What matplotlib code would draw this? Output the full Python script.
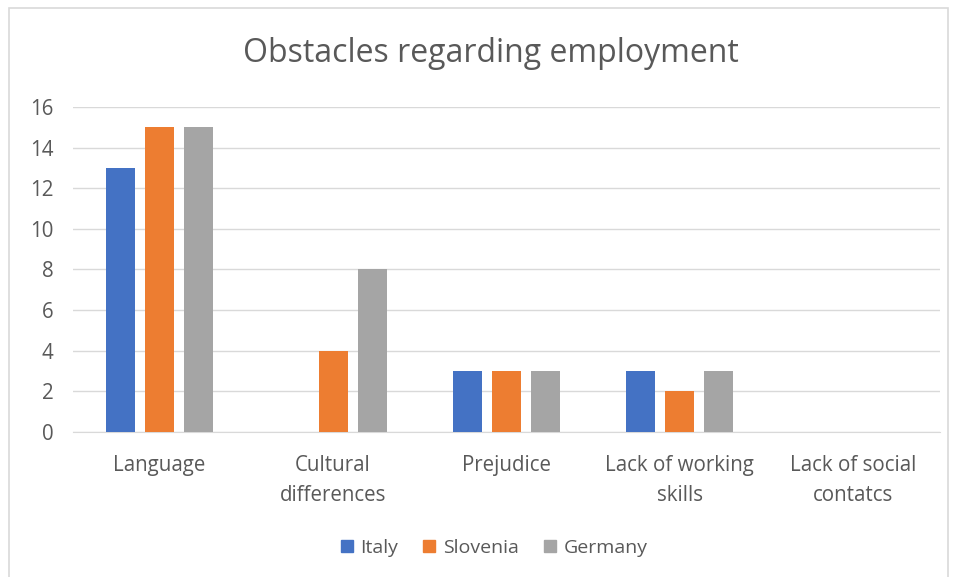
import numpy as np
import matplotlib.pyplot as plt
from matplotlib.patches import Rectangle
from matplotlib.lines import Line2D

categories = ['Language', 'Cultural\ndifferences', 'Prejudice',
              'Lack of working\nskills', 'Lack of social\ncontatcs']
countries = ['Italy', 'Slovenia', 'Germany']
italy = [13, 0, 3, 3, 0]
slovenia = [15, 4, 3, 2, 0]
germany = [15, 8, 3, 3, 0]
colors = ['#4472C4', '#ED7D31', '#A5A5A5']
text_color = '#595959'

plt.rcParams['font.family'] = ['Open Sans', 'DejaVu Sans']

fig = plt.figure(figsize=(9.56, 5.77), dpi=100)
ax = fig.add_axes([0.0763, 0.2513, 0.907, 0.5633])

# 外框
fig.patches.append(Rectangle((9 / 956, -0.01), 939 / 956, 1 - 8 / 577 + 0.01,
                             transform=fig.transFigure, fill=False,
                             edgecolor='#d9d9d9', linewidth=1.2))

x = np.arange(len(categories))
step, width = 0.2247, 0.167
for i, (vals, color) in enumerate(zip([italy, slovenia, germany], colors)):
    ax.bar(x + (i - 1) * step, vals, width, color=color, zorder=3)

ax.set_xlim(-0.5, len(categories) - 0.5)
ax.set_ylim(0, 16)
ax.set_yticks(range(0, 17, 2))
ax.yaxis.grid(True, color='#d9d9d9', linewidth=1, zorder=0)
ax.set_xticks(x)
ax.set_xticklabels(categories, linespacing=1.55)
ax.tick_params(length=0, colors=text_color, labelsize=14.8)
ax.tick_params(axis='x', pad=16.5)
ax.tick_params(axis='y', pad=14)
for side in ['top', 'right', 'left']:
    ax.spines[side].set_visible(False)
ax.spines['bottom'].set_color('#d9d9d9')

fig.text(0.513, 0.907, 'Obstacles regarding employment', ha='center', va='center',
         fontsize=23, color=text_color)

handles = [Line2D([], [], marker='s', linestyle='none', markersize=9,
                  markerfacecolor=c, markeredgecolor=c) for c in colors]
fig.legend(handles, countries, loc='center', bbox_to_anchor=(0.516, 0.051), ncol=3,
           frameon=False, fontsize=14, labelcolor=text_color, handletextpad=0.3,
           handlelength=0.8, columnspacing=1.2)

plt.savefig('out.png')
